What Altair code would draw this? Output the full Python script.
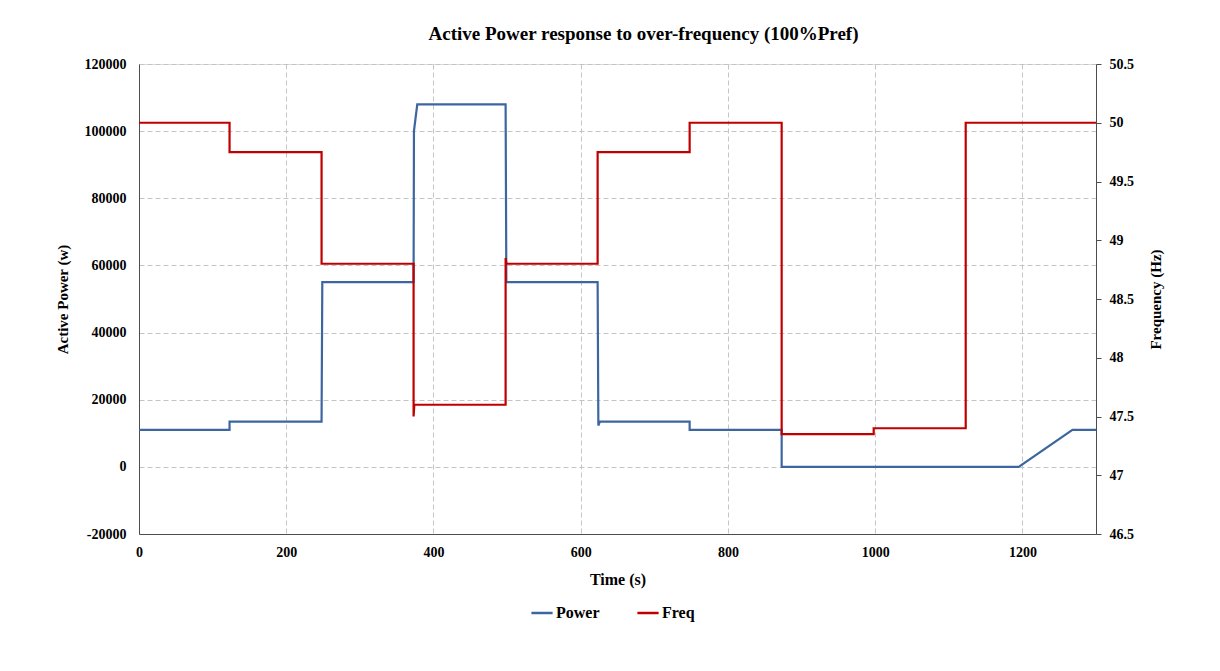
import altair as alt
import pandas as pd

# Power (W) step profile
power_t = [0, 123, 123, 248, 249, 373, 373.5, 378, 498, 499, 623, 624, 626, 748, 748, 873, 873, 1195, 1268, 1300]
power_w = [11000, 11000, 13500, 13500, 55000, 55000, 100000, 108000, 108000, 55000, 55000, 12300, 13500, 13500, 11000, 11000, 0, 0, 11000, 11000]

# Frequency (Hz) step profile
freq_t = [0, 123, 123, 248, 248, 373, 373, 374, 498, 498, 499, 623, 623, 748, 748, 873, 873, 998, 998, 1123, 1123, 1300]
freq_hz = [50, 50, 49.75, 49.75, 48.8, 48.8, 47.5, 47.6, 47.6, 48.85, 48.8, 48.8, 49.75, 49.75, 50, 50, 47.35, 47.35, 47.4, 47.4, 50, 50]

x_ticks = [0, 200, 400, 600, 800, 1000, 1200]
p_ticks = [-20000, 0, 20000, 40000, 60000, 80000, 100000, 120000]
f_ticks = [46.5, 47, 47.5, 48, 48.5, 49, 49.5, 50, 50.5]

series_names = ["Power", "Freq"]
series_colors = ["#3D66A0", "#C00000"]

pdf = pd.DataFrame({"t": power_t, "v": power_w, "series": "Power", "i": range(len(power_t))})
fdf = pd.DataFrame({"t": freq_t, "v": freq_hz, "series": "Freq", "i": range(len(freq_t))})

FONT = "Liberation Serif"
GRID_DASH = [5, 3]
GRID_COLOR = "#c4c4c4"
AX_COLOR = "#4d4d4d"

color = alt.Color(
    "series:N",
    scale=alt.Scale(domain=series_names, range=series_colors),
    legend=alt.Legend(
        title=None, orient="none", direction="horizontal",
        legendX=391, legendY=537,
        symbolType="stroke", symbolStrokeWidth=2.5, symbolSize=450,
        labelFont=FONT, labelFontSize=16, labelFontWeight="bold", labelColor="#000",
        columnPadding=32, labelOffset=2,
    ),
)

xenc = alt.X(
    "t:Q",
    scale=alt.Scale(domain=[0, 1300], nice=False, zero=False),
    axis=alt.Axis(
        values=x_ticks, title="Time  (s)", format="d",
        grid=True, gridDash=GRID_DASH, gridColor=GRID_COLOR,
        domainColor=AX_COLOR, ticks=False, labelFlush=False,
        labelFont=FONT, labelFontSize=14, labelFontWeight="bold", labelColor="#000", labelPadding=11,
        titleFont=FONT, titleFontSize=16, titleFontWeight="bold", titleColor="#000", titlePadding=12,
    ),
)

power = alt.Chart(pdf).mark_line(strokeWidth=2.2).encode(
    x=xenc,
    y=alt.Y(
        "v:Q",
        scale=alt.Scale(domain=[-20000, 120000], nice=False),
        axis=alt.Axis(
            orient="left", values=p_ticks, format="d", title="Active Power (w)",
            labelExpr="replace(datum.label, '\u2212', '-')",
            grid=True, gridDash=GRID_DASH, gridColor=GRID_COLOR,
            domainColor=AX_COLOR, ticks=False,
            labelFont=FONT, labelFontSize=14, labelFontWeight="bold", labelColor="#000", labelPadding=13,
            titleFont=FONT, titleFontSize=15, titleFontWeight="bold", titleColor="#000", titlePadding=14,
        ),
    ),
    color=color,
    order="i:Q",
)

freq = alt.Chart(fdf).mark_line(strokeWidth=2.2).encode(
    x=xenc,
    y=alt.Y(
        "v:Q",
        scale=alt.Scale(domain=[46.5, 50.5], nice=False, zero=False),
        axis=alt.Axis(
            orient="right", values=f_ticks, format="~g", title="Frequency (Hz)",
            grid=False, titleAngle=270,
            domainColor=AX_COLOR, tickColor=AX_COLOR, tickSize=5,
            labelFont=FONT, labelFontSize=14, labelFontWeight="bold", labelColor="#000", labelPadding=8,
            titleFont=FONT, titleFontSize=15, titleFontWeight="bold", titleColor="#000", titlePadding=30,
        ),
    ),
    color=color,
    order="i:Q",
)

chart = (
    alt.layer(power, freq)
    .resolve_scale(y="independent")
    .properties(
        width=957,
        height=470,
        title=alt.TitleParams(
            "Active Power response to over-frequency (100%Pref)",
            font=FONT, fontSize=19, fontWeight="bold", color="#000",
            anchor="middle", dx=26, offset=13,
        ),
        padding={"left": 131, "top": 56, "right": 100, "bottom": 100},
        autosize="none",
    )
    .configure_view(stroke=AX_COLOR, strokeWidth=1)
    .configure(background="white")
)

chart.save("out.html", embed_options={"renderer": "svg", "actions": False})
